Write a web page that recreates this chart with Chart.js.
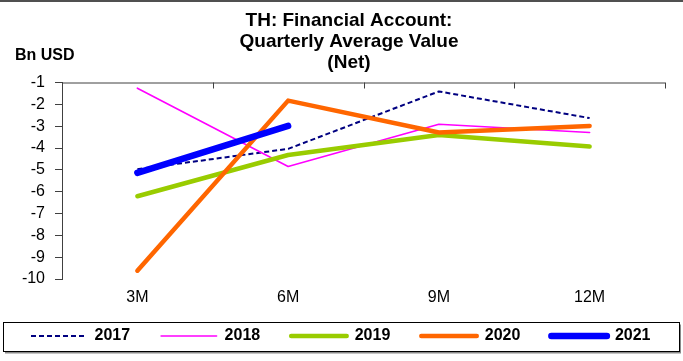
<!DOCTYPE html>
<html>
<head>
<meta charset="utf-8">
<title>TH: Financial Account</title>
<script src="https://cdn.jsdelivr.net/npm/chart.js@4.4.1/dist/chart.umd.min.js"></script>
<style>
  html, body { margin: 0; padding: 0; background: #fff; }
  canvas { display: block; }
</style>
</head>
<body>
<canvas id="faChart" width="683" height="361"></canvas>
<script>
// Quarterly average value of the net financial account, Bn USD
const quarters = ["3M", "6M", "9M", "12M"];
const years = ["2017", "2018", "2019", "2020", "2021"];

const fa2017 = [-4.97, -4.04, -1.41, -2.63];
const fa2018 = [-1.26, -4.85, -2.91, -3.29];
const fa2019 = [-6.21, -4.32, -3.40, -3.93];
const fa2020 = [-9.62, -1.83, -3.29, -2.99];
const fa2021 = [-5.14, -2.99, null, null];

const titleLines = ["TH: Financial Account:", "Quarterly Average Value", "(Net)"];
const unitLabel = "Bn USD";

const FONT = "'Liberation Sans', Arial, sans-serif";
const AXIS_COLOR = "#404040";

// Title, unit label, top category axis, frame and legend box
const decorations = {
  id: "decorations",
  afterLayout(chart) {
    // the x axis box is kept short so the legend sits close; let its labels overflow
    const x = chart.scales.x;
    x.bottom = x.top + 30;
  },
  beforeDraw(chart) {
    const ctx = chart.ctx;
    const lg = chart.legend;
    const top = Math.round(lg.top + 24.5) + 0.5;
    ctx.save();
    ctx.fillStyle = "#8a8a8a";
    ctx.fillRect(5, top + 2, 676, 29);
    ctx.fillStyle = "#fff";
    ctx.fillRect(3, top, 676, 29);
    ctx.strokeStyle = "#000";
    ctx.lineWidth = 1;
    ctx.strokeRect(3.5, top, 676, 29);
    ctx.restore();
  },
  afterDraw(chart) {
    const ctx = chart.ctx;
    const area = chart.chartArea;
    const x = chart.scales.x;
    ctx.save();

    // frame line along the top edge
    ctx.strokeStyle = "#505050";
    ctx.lineWidth = 2;
    ctx.beginPath();
    ctx.moveTo(0, 1);
    ctx.lineTo(chart.width, 1);
    ctx.stroke();

    // title
    ctx.fillStyle = "#000";
    ctx.font = "bold 19px " + FONT;
    ctx.textAlign = "center";
    ctx.textBaseline = "middle";
    titleLines.forEach((t, i) => ctx.fillText(t, 349, 21 + i * 21));

    // unit label
    ctx.font = "bold 16px " + FONT;
    ctx.textAlign = "left";
    ctx.fillText(unitLabel, 15, 56);

    // category axis sits at the top of the plot
    ctx.strokeStyle = AXIS_COLOR;
    ctx.lineWidth = 1;
    ctx.beginPath();
    ctx.moveTo(area.left, area.top + 0.5);
    ctx.lineTo(area.right, area.top + 0.5);
    const step = (area.right - area.left) / quarters.length;
    for (let i = 0; i <= quarters.length; i++) {
      const px = Math.round(x.getPixelForValue(0) - step / 2 + i * step) + 0.5;
      ctx.moveTo(px, area.top);
      ctx.lineTo(px, area.top + 6);
    }
    ctx.stroke();
    ctx.restore();
  }
};

function lineSet(label, data, color, width, order, dash) {
  return {
    label: label,
    data: data,
    borderColor: color,
    backgroundColor: color,
    borderWidth: width,
    borderDash: dash || [],
    borderCapStyle: dash ? "butt" : "round",
    borderJoinStyle: "round",
    pointRadius: 0,
    pointHoverRadius: 0,
    pointStyle: "line",
    fill: false,
    tension: 0,
    spanGaps: false,
    order: order
  };
}

// legend samples carry the dash pattern and caps of their lines
function legendLabels(chart) {
  const items = Chart.defaults.plugins.legend.labels.generateLabels(chart);
  items.forEach((item) => {
    const ds = chart.data.datasets[item.datasetIndex];
    item.lineDash = ds.borderDash;
    item.lineCap = ds.borderCapStyle;
    item.lineWidth = ds.borderWidth;
  });
  return items;
}

new Chart(document.getElementById("faChart"), {
  type: "line",
  data: {
    labels: quarters,
    datasets: [
      lineSet(years[0], fa2017, "#000080", 2, 4, [5, 3]),
      lineSet(years[1], fa2018, "#FF00FF", 1.6, 3),
      lineSet(years[2], fa2019, "#99CC00", 4.5, 2),
      lineSet(years[3], fa2020, "#FF6600", 4.5, 1),
      lineSet(years[4], fa2021, "#0000FF", 6.5, 0)
    ]
  },
  options: {
    responsive: false,
    animation: false,
    devicePixelRatio: 1,
    layout: { padding: { top: 82.5, bottom: 7, left: 0, right: 0 } },
    plugins: {
      title: { display: false },
      tooltip: { enabled: false },
      legend: {
        position: "bottom",
        align: "start",
        labels: {
          usePointStyle: true,
          pointStyleWidth: 55.5,
          padding: 31,
          color: "#000",
          font: { family: FONT, size: 16, weight: "bold" },
          generateLabels: legendLabels,
          sort: (a, b) => a.datasetIndex - b.datasetIndex
        }
      }
    },
    scales: {
      x: {
        type: "category",
        offset: true,
        grid: { display: false, drawTicks: false },
        border: { display: false },
        ticks: { color: "#000", padding: 9, font: { family: FONT, size: 16 } },
        afterFit: (s) => { s.height = 18; }
      },
      y: {
        min: -10,
        max: -1,
        position: "left",
        ticks: { stepSize: 1, autoSkip: false, color: "#000", padding: 10, font: { family: FONT, size: 16 } },
        grid: { drawOnChartArea: false, drawTicks: true, tickLength: 7, color: AXIS_COLOR },
        border: { display: true, color: AXIS_COLOR, width: 1 },
        afterFit: (s) => { s.width = 62; }
      },
      yRight: {
        type: "linear",
        position: "right",
        grid: { display: false },
        border: { display: false },
        ticks: { display: false },
        afterFit: (s) => { s.width = 18; }
      }
    }
  },
  plugins: [decorations]
});
</script>
</body>
</html>
